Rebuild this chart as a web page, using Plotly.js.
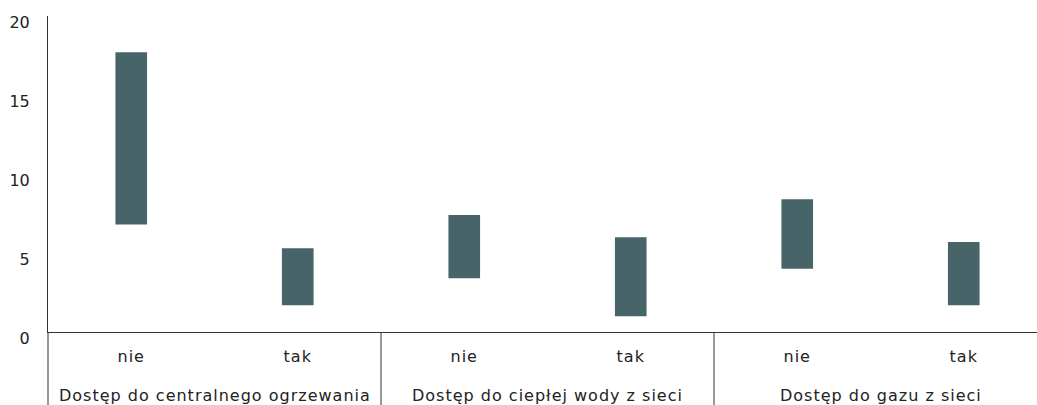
<!DOCTYPE html>
<html>
<head>
<meta charset="utf-8">
<script src="https://cdn.plot.ly/plotly-3.0.1.min.js"></script>
<style>
html,body{margin:0;padding:0;overflow:hidden;background:#fff;width:1037px;height:405px;}
#chart{width:1047px;height:405px;}
#chart .xtick text, #chart .annotation-text{letter-spacing:1px;}
</style>
</head>
<body>
<div id="chart"></div>
<script>
const groupNames = ["Dostęp do centralnego ogrzewania", "Dostęp do ciepłej wody z sieci", "Dostęp do gazu z sieci"];
const groupOfBar = [0, 0, 1, 1, 2, 2];
const answers = ["nie", "tak", "nie", "tak", "nie", "tak"];
const lowValues = [6.8, 1.7, 3.4, 1.0, 4.0, 1.7];
const highValues = [17.7, 5.3, 7.4, 6.0, 8.4, 5.7];
const yTicks = [0, 5, 10, 15, 20];

const FONT = "'DejaVu Sans', sans-serif";
const TEXT = "#222222";
const LINE = "#333333";

const positions = answers.map((_, i) => i);
const xMin = -0.5, xMax = answers.length - 0.5;

const trace = {
  type: "bar",
  x: positions,
  base: lowValues,
  y: highValues.map((h, i) => h - lowValues[i]),
  marker: {color: "#476568", line: {width: 0}},
  width: 0.19,
  hoverinfo: "skip"
};

// group label annotations and divider lines derived from the group membership
const annotations = groupNames.map((name, g) => {
  const idx = positions.filter(i => groupOfBar[i] === g);
  const center = idx.reduce((a, b) => a + b, 0) / idx.length;
  return {
    text: name, x: center, xref: "x", y: 0, yref: "paper",
    yanchor: "middle", xanchor: "center", yshift: -63, showarrow: false,
    font: {family: FONT, size: 16, color: TEXT}
  };
});
const boundaries = [xMin];
for (let i = 1; i < groupOfBar.length; i++) {
  if (groupOfBar[i] !== groupOfBar[i - 1]) boundaries.push(i - 0.5);
}
boundaries.push(xMax);
const shapes = boundaries.map(b => ({
  type: "line", xref: "paper", yref: "paper",
  x0: (b - xMin) / (xMax - xMin), x1: (b - xMin) / (xMax - xMin),
  y0: 0, y1: -0.4,
  line: {color: LINE, width: 1}
}));

const layout = {
  width: 1047,
  height: 405,
  margin: {l: 48, r: 0, t: 16, b: 73, pad: 0},
  paper_bgcolor: "#ffffff",
  plot_bgcolor: "#ffffff",
  showlegend: false,
  font: {family: FONT, size: 16, color: TEXT},
  xaxis: {
    range: [xMin, xMax],
    tickvals: positions,
    ticktext: answers,
    showline: true,
    linecolor: LINE,
    linewidth: 1,
    showgrid: false,
    zeroline: false,
    ticks: "",
    ticklabelstandoff: 10,
    tickfont: {family: FONT, size: 16, color: TEXT}
  },
  yaxis: {
    range: [0, 20],
    tickvals: yTicks,
    ticktext: yTicks.map(String),
    showline: true,
    linecolor: LINE,
    linewidth: 1,
    showgrid: false,
    zeroline: false,
    ticks: "",
    ticklabelstandoff: 14,
    ticklabelshift: 6,
    tickfont: {family: FONT, size: 16, color: TEXT}
  },
  annotations: annotations,
  shapes: shapes
};

Plotly.newPlot("chart", [trace], layout, {displayModeBar: false, staticPlot: true});
</script>
</body>
</html>
